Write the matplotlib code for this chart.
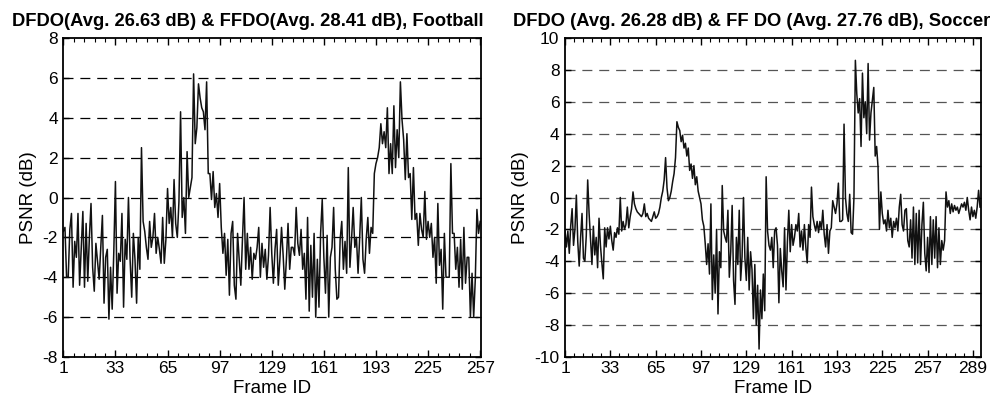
import numpy as np
import matplotlib
matplotlib.use('Agg')
import matplotlib.pyplot as plt
from matplotlib.ticker import AutoMinorLocator

plt.rcParams['font.family'] = ['Liberation Sans', 'DejaVu Sans']
plt.rcParams['axes.unicode_minus'] = False

# PSNR difference (dB) per frame, Football
football = [
    -1.7, -1.5, -4.0, -4.0, -1.6, -0.8, -4.5, -2.2, -3.0, -0.8,
    -4.4, -2.5, -0.7, -4.5, -1.3, -4.2, -2.0, -0.3, -3.5, -4.7,
    -2.3, -3.2, -4.1, -2.5, -0.9, -5.3, -3.0, -2.6, -6.1, -3.5,
    -5.6, -2.7, 0.8, -4.8, -2.8, -3.2, -0.8, -5.5, -2.1, -3.1,
    0.0, -3.1, -5.0, -1.8, -3.1, -5.3, -2.0, -3.6, 2.5, -1.2,
    -1.7, -2.5, -3.1, -1.2, -2.5, -2.0, -0.8, -2.8, -2.0, -2.6,
    -3.3, -1.0, -3.3, -2.1, 0.45, -1.3, -0.5, -2.0, 0.9, -1.3,
    -2.0, -0.2, 4.3, -1.0, 0.0, -1.8, 2.3, 0.0, 0.5, 1.0,
    6.2, 2.7, 3.5, 5.7, 5.0, 4.5, 4.3, 3.4, 5.8, 1.2,
    1.2, -0.1, 1.3, -0.5, 0.2, -1.0, 0.7, -1.5, -2.8, -1.8,
    -3.9, -2.1, -4.9, -1.8, -1.2, -4.4, -5.1, -1.8, -3.1, -4.4,
    -2.1, 0.0, -3.6, -1.8, -3.6, -2.5, -4.1, -2.8, -3.1, -2.5,
    -1.5, -4.0, -2.3, -3.5, -2.6, -4.1, -2.9, -0.5, -2.8, -4.3,
    -2.6, -1.6, -4.4, -3.1, -1.5, -2.9, -4.6, -3.1, -1.3, -3.6,
    -2.5, -2.5, -2.9, -0.5, -2.3, -2.9, -1.6, -3.6, -2.8, -5.1,
    -1.0, -5.7, -2.4, -5.0, -1.8, -6.0, -3.1, -5.5, -1.8, -0.1,
    -3.0, -4.8, -1.9, -6.0, -3.0, -2.5, -0.5, -3.6, -5.1, -5.0,
    -2.1, -1.2, -3.6, -2.2, -3.8, 1.5, -3.5, -2.1, -0.5, -2.5,
    -2.0, -3.8, -2.0, 0.0, -3.1, -3.8, -2.1, -1.0, -2.8, -1.5,
    -1.8, 1.2, 1.7, 2.0, 2.5, 3.7, 2.7, 3.3, 2.5, 4.5,
    1.2, 2.7, 1.2, 4.6, 1.5, 3.4, 2.0, 5.8, 3.9, 2.9,
    0.9, 3.2, 1.0, 1.2, -1.1, 1.5, -1.1, -0.8, -2.4, -0.8,
    -1.6, -2.0, 0.3, -2.1, -1.2, -2.0, -1.3, -3.0, -2.0, -4.3,
    -0.3, -3.4, -2.6, -5.6, -1.8, -4.0, -4.0, -4.0, 1.7, -1.8,
    -1.8, -3.6, -2.5, -4.5, -2.1, -4.6, -1.5, -4.3, -3.0, -3.0,
    -6.0, -3.8, -6.0, -4.1, -0.6, -1.8, -1.2,
]

# PSNR difference (dB) per frame, Soccer
soccer = [
    -2.1, -3.1, -2.1, -3.5, -1.8, -0.7, -3.0, -2.0, 0.15, -2.8,
    -4.3, -2.5, -1.0, -3.8, -4.0, -2.4, 1.1, -1.0, -2.6, -4.2,
    -1.8, -3.6, -2.5, -4.4, -1.3, -3.0, -4.1, -5.1, -1.9, -3.1,
    -1.9, -2.6, -1.8, -2.7, -3.3, -2.2, -2.5, -1.9, -2.3, 0.0,
    -2.1, -1.5, -2.0, -1.7, -0.6, -1.9, -1.2, -0.7, 0.35, -0.4,
    -0.7, -0.9, -1.0, -1.1, -1.2, -1.0, -0.4, -1.2, -1.0, -1.3,
    -1.4, -1.5, -1.2, -0.9, -1.3, -1.2, -1.0, -0.6, 0.0, 0.4,
    1.1, 2.5, 0.6, -0.2, 0.0, 0.4, 1.0, 1.5, 2.5, 4.75,
    4.4, 4.2, 3.5, 3.9, 3.1, 3.4, 2.6, 3.1, 1.7, 2.1,
    1.2, 2.0, 0.8, 1.3, 0.4, 0.0, -0.4, -1.4, -1.8, -2.9,
    -4.2, -2.9, -4.8, -0.4, -6.4, -3.6, -6.0, -2.0, -7.3, -3.4,
    -4.4, 0.75, -2.1, -2.5, -2.8, -0.8, -5.0, -3.4, -0.5, -5.2,
    -6.7, -2.5, -4.2, -0.8, -5.2, -3.7, 0.0, -3.8, -5.2, -2.5,
    -5.8, -3.4, -4.5, -7.6, -4.2, -8.0, -5.5, -9.5, -5.8, -7.6,
    -4.8, -7.1, 1.3, -2.1, -3.0, -3.3, -2.5, -4.4, -2.1, -1.9,
    -3.0, -6.6, -3.2, -4.6, -5.6, -1.9, -5.8, -2.8, -0.8, -3.4,
    -1.7, -3.0, -2.5, -1.7, -2.1, -1.0, -3.1, -2.1, -3.3, -1.7,
    -3.1, -4.1, -1.7, -2.5, 0.65, -1.2, -1.7, -2.1, -1.5, -2.2,
    -1.5, -2.0, -0.8, -2.3, -3.1, -1.7, -3.5, -2.1, -1.9, -0.2,
    -0.6, -1.0, -0.4, 0.9, -1.5, -1.5, -1.4, 4.6, 0.0, -1.0,
    -1.5, 0.2, -2.2, -2.3, 0.0, 8.6, 6.5, 5.3, 6.2, 3.2,
    7.8, 5.0, 6.0, 4.0, 8.4, 3.6, 5.3, 6.1, 6.9, 2.6,
    3.2, 1.9, -2.0, 0.35, -1.0, -1.65, -1.4, -2.1, -0.8, -1.9,
    -1.3, -2.5, -1.5, -1.9, -1.3, -2.1, -0.6, 0.2, -1.7, -2.1,
    -0.8, -0.7, -2.7, -3.1, -1.4, -3.8, -0.6, -4.2, -1.0, -4.1,
    -0.8, -4.2, -1.7, -0.3, -3.5, -4.6, -2.5, -4.7, -1.2, -4.2,
    -1.4, -3.8, -1.2, -4.4, -1.9, -4.2, -2.7, -3.3, -2.7, 0.35,
    -0.6, -0.2, -1.0, -0.4, -0.9, -0.5, -0.8, -0.6, -1.0, -0.7,
    -0.4, -0.6, -0.3, -0.8, 0.0, -0.8, -1.4, -0.6, -1.2, -0.8,
    -1.3, -0.6, 0.45, -0.6,
]

titles = ['DFDO(Avg. 26.63 dB) & FFDO(Avg. 28.41 dB), Football',
          'DFDO (Avg. 26.28 dB) & FF DO (Avg. 27.76 dB), Soccer']

fig = plt.figure(figsize=(10.02, 4.0), dpi=100)
ax1 = fig.add_axes([0.0632, 0.1075, 0.417, 0.7975])
ax2 = fig.add_axes([0.5639, 0.1075, 0.415, 0.7975])


def draw(ax, y, xmax, xticks, ylim, yticks, gridcolor):
    x = np.arange(1, len(y) + 1)
    for v in yticks[1:-1]:
        ax.axhline(v, color=gridcolor, lw=0.9, dashes=(8, 5.5), zorder=1)
    ax.plot(x, y, color='#111111', lw=1.1, zorder=2)
    ax.set_xlim(1, xmax)
    ax.set_ylim(*ylim)
    ax.set_xticks(xticks)
    ax.set_yticks(yticks)
    ax.xaxis.set_minor_locator(AutoMinorLocator(5))
    ax.tick_params(axis='x', which='major', direction='in', top=True,
                   length=5, width=1.0, labelsize=12.5, pad=3)
    ax.tick_params(axis='x', which='minor', direction='in', top=True,
                   length=3, width=0.8)
    ax.tick_params(axis='y', which='major', direction='in', right=True,
                   length=4, width=1.0, labelsize=12.5, pad=4)
    for s in ax.spines.values():
        s.set_linewidth(1.3)
    ax.set_xlabel('Frame ID', fontsize=13.5, labelpad=3)
    ax.set_ylabel('PSNR (dB)', fontsize=13.5, labelpad=4)


draw(ax1, football, 257.6, np.arange(1, 258, 32), (-8, 8),
     np.arange(-8, 9, 2), 'black')
draw(ax2, soccer, 294.6, np.arange(1, 290, 32), (-10, 10),
     np.arange(-10, 11, 2), '#555555')

fig.text(0.2475, 0.947, titles[0], ha='center', va='center',
         fontsize=13.2, fontweight='bold')
fig.text(0.75, 0.947, titles[1], ha='center', va='center',
         fontsize=13.2, fontweight='bold')

fig.savefig('out.png', dpi=100)
